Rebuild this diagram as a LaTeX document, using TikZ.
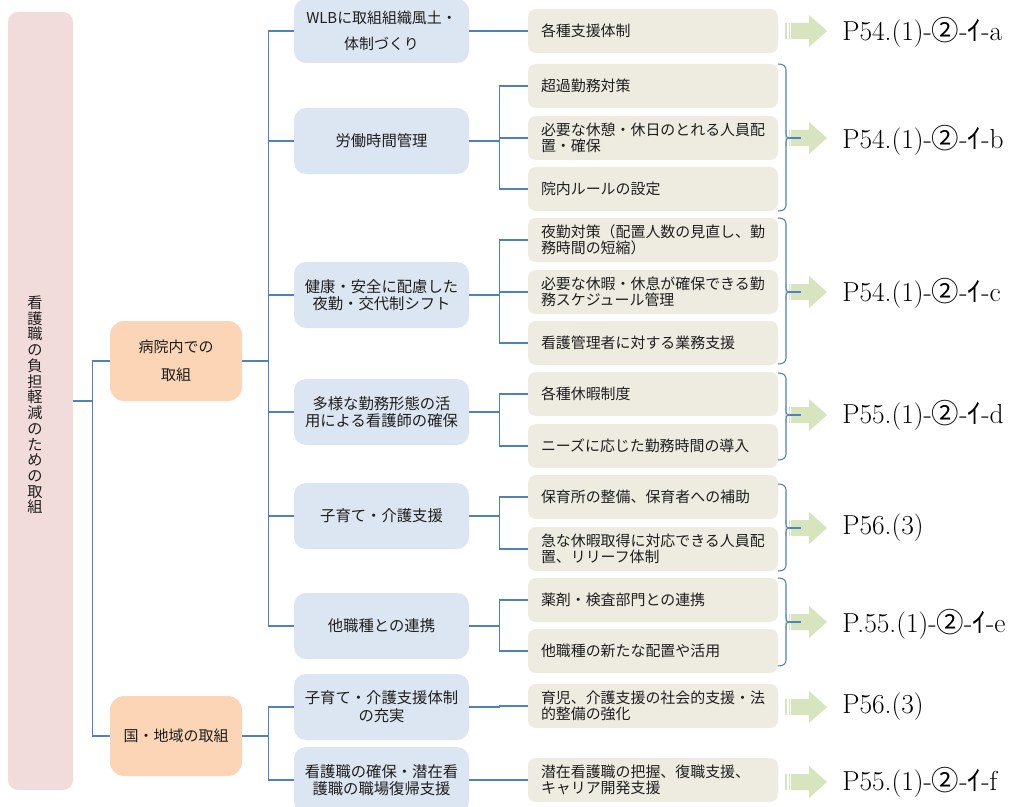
\documentclass[tikz,border=0pt]{standalone}
\usepackage{fontspec}
\newfontfamily\cjk{Noto Sans CJK JP}
\definecolor{rootpink}{HTML}{F2DCDB}
\definecolor{peach}{HTML}{FBD5B5}
\definecolor{lblue}{HTML}{DCE6F2}
\definecolor{beige}{HTML}{EEECE1}
\definecolor{lineblue}{HTML}{4F81BD}
\definecolor{agreen}{HTML}{D7E4BD}
\definecolor{txt}{HTML}{1E1E1E}
\newcommand\sarrow[1]{%
  \fill[agreen] (785,#1-8) rectangle (787,#1+8);
  \fill[agreen] (788.5,#1-8) rectangle (790,#1+8);
  \fill[agreen] (791,#1-8) -- (809,#1-8) -- (809,#1-16) -- (827,#1) -- (809,#1+16) -- (809,#1+8) -- (791,#1+8) -- cycle;}
\newcommand\mbrace[3]{%
  \draw[conn] (778,#1) .. controls (783,#1) and (786,#1+2) .. (786,#1+6) -- (786,#3-4)
     .. controls (786,#3-1) .. (790,#3) .. controls (786,#3+1) .. (786,#3+4)
     -- (786,#2-6) .. controls (786,#2-2) and (783,#2) .. (778,#2);
  \draw[conn] (790,#3) -- (801,#3);}
\begin{document}
\begin{tikzpicture}[x=0.75pt,y=-0.75pt,
  conn/.style={draw=lineblue,line width=0.8pt},
  rootbox/.style={fill=rootpink,rounded corners=7.5pt,minimum width=48.75pt,minimum height=583.5pt,inner sep=0pt},
  roottext/.style={align=center,inner sep=0pt,text=txt,font=\cjk\fontsize{11.4}{11.8}\selectfont},
  lvone/.style={fill=peach,rounded corners=10.5pt,minimum width=99pt,minimum height=60pt,align=center,inner sep=0pt,text=txt,font=\cjk\fontsize{11.25}{21}\selectfont},
  lvtwo/.style={fill=lblue,rounded corners=9pt,minimum width=131.25pt,minimum height=49.5pt,align=center,inner sep=0pt,text=txt,font=\cjk\fontsize{11.5}{12.8}\selectfont},
  lvthree/.style={fill=beige,rounded corners=6pt,text width=168pt,inner xsep=9.75pt,inner ysep=0pt,minimum height=33pt,align=left,text=txt,font=\cjk\fontsize{11.2}{12}\selectfont},
  refl/.style={anchor=west,inner sep=0pt,text=black,font=\fontsize{20.6}{22}\selectfont},
]
\useasboundingbox (0,0) rectangle (1009,806);
\fill[white] (0,0) rectangle (1009,806);

% root
\node[rootbox] (root) at (40.5,401) {};
\node[roottext] (roottxt) at (35,405) {看\\護\\職\\の\\負\\担\\軽\\減\\の\\た\\め\\の\\取\\組};

% level 1
\node[lvone] (a1) at (176,361) {病院内での\\取組};
\node[lvone] (a2) at (176,736) {国・地域の取組};

% level 2
\node[lvtwo,minimum height=48pt,font=\cjk\fontsize{11.2}{19.5}\selectfont] (b1) at (381.5,31) {WLBに取組組織風土・\\体制づくり};
\node[lvtwo] (b2) at (381.5,141) {労働時間管理};
\node[lvtwo] (b3) at (381.5,295) {健康・安全に配慮した\\夜勤・交代制シフト};
\node[lvtwo] (b4) at (381.5,412) {多様な勤務形態の活\\用による看護師の確保};
\node[lvtwo] (b5) at (381.5,516) {子育て・介護支援};
\node[lvtwo] (b6) at (381.5,626) {他職種との連携};
\node[lvtwo,font=\cjk\fontsize{11.5}{13.5}\selectfont] (b7) at (381.5,707) {子育て・介護支援体制\\の充実};
\node[lvtwo] (b8) at (381.5,780) {看護職の確保・潜在看\\護職の職場復帰支援};

% level 3
\node[lvthree] (c1) at (653,31) {各種支援体制};
\node[lvthree] (c2) at (653,86) {超過勤務対策};
\node[lvthree] (c3) at (653,138) {必要な休憩・休日のとれる人員配\\置・確保};
\node[lvthree] (c4) at (653,189) {院内ルールの設定};
\node[lvthree] (c5) at (653,240) {夜勤対策（配置人数の見直し、勤\\務時間の短縮）};
\node[lvthree] (c6) at (653,292) {必要な休暇・休息が確保できる勤\\務スケジュール管理};
\node[lvthree] (c7) at (653,343) {看護管理者に対する業務支援};
\node[lvthree] (c8) at (653,394) {各種休暇制度};
\node[lvthree] (c9) at (653,446) {ニーズに応じた勤務時間の導入};
\node[lvthree] (c10) at (653,497) {保育所の整備、保育者への補助};
\node[lvthree] (c11) at (653,549) {急な休暇取得に対応できる人員配\\置、リリーフ体制};
\node[lvthree] (c12) at (653,600) {薬剤・検査部門との連携};
\node[lvthree] (c13) at (653,651) {他職種の新たな配置や活用};
\node[lvthree] (c14) at (653,706) {育児、介護支援の社会的支援・法\\的整備の強化};
\node[lvthree] (c15) at (653,780) {潜在看護職の把握、復職支援、\\キャリア開発支援};

% connectors root -> level 1
\draw[conn] (root.east) -- ++(19,0) coordinate (j0);
\draw[conn] (a1.west) -| (j0) |- (a2.west);

% level 1 -> level 2
\draw[conn] (a1.east) -- ++(26,0) coordinate (j1);
\draw[conn] (j1 |- b1.west) -- (j1 |- b6.west);
\foreach \i in {1,...,6} \draw[conn] (j1 |- b\i.west) -- (b\i.west);
\draw[conn] (a2.east) -- ++(26,0) coordinate (j2);
\draw[conn] (j2 |- b7.west) -- (j2 |- b8.west);
\foreach \i in {7,8} \draw[conn] (j2 |- b\i.west) -- (b\i.west);

% level 2 -> level 3
\draw[conn] (b1.east) -- (c1.west);
\draw[conn] (b2.east) -- ++(30,0) coordinate (k2);
\draw[conn] (k2 |- c2.west) -- (k2 |- c4.west);
\foreach \i in {2,3,4} \draw[conn] (k2 |- c\i.west) -- (c\i.west);
\draw[conn] (b3.east) -- ++(30,0) coordinate (k3);
\draw[conn] (k3 |- c5.west) -- (k3 |- c7.west);
\foreach \i in {5,6,7} \draw[conn] (k3 |- c\i.west) -- (c\i.west);
\draw[conn] (b4.east) -- ++(30,0) coordinate (k4);
\draw[conn] (k4 |- c8.west) -- (k4 |- c9.west);
\foreach \i in {8,9} \draw[conn] (k4 |- c\i.west) -- (c\i.west);
\draw[conn] (b5.east) -- ++(30,0) coordinate (k5);
\draw[conn] (k5 |- c10.west) -- (k5 |- c11.west);
\foreach \i in {10,11} \draw[conn] (k5 |- c\i.west) -- (c\i.west);
\draw[conn] (b6.east) -- ++(30,0) coordinate (k6);
\draw[conn] (k6 |- c12.west) -- (k6 |- c13.west);
\foreach \i in {12,13} \draw[conn] (k6 |- c\i.west) -- (c\i.west);
\draw[conn] (b7.east) -- ++(30,0) |- (c14.west);
\draw[conn] (b8.east) -- (c15.west);

% arrows
\sarrow{31}
\sarrow{138}
\sarrow{292}
\sarrow{415}
\sarrow{528}
\sarrow{622}
\sarrow{707}
\sarrow{782}

% braces
\mbrace{64}{211}{138}
\mbrace{218}{364}{292}
\mbrace{373}{460}{415}
\mbrace{484}{571}{528}
\mbrace{578}{666}{622}

% reference labels
\node[refl] (r1) at (842,32) {P54.(1)-{\cjk ②}-{\cjk ｲ}-a};
\node[refl] (r2) at (842,140) {P54.(1)-{\cjk ②}-{\cjk ｲ}-b};
\node[refl] (r3) at (842,293) {P54.(1)-{\cjk ②}-{\cjk ｲ}-c};
\node[refl] (r4) at (842,415) {P55.(1)-{\cjk ②}-{\cjk ｲ}-d};
\node[refl] (r5) at (842,528) {P56.(3)};
\node[refl] (r6) at (842,624) {P.55.(1)-{\cjk ②}-{\cjk ｲ}-e};
\node[refl] (r7) at (842,707) {P56.(3)};
\node[refl] (r8) at (842,782) {P55.(1)-{\cjk ②}-{\cjk ｲ}-f};
\end{tikzpicture}
\end{document}
